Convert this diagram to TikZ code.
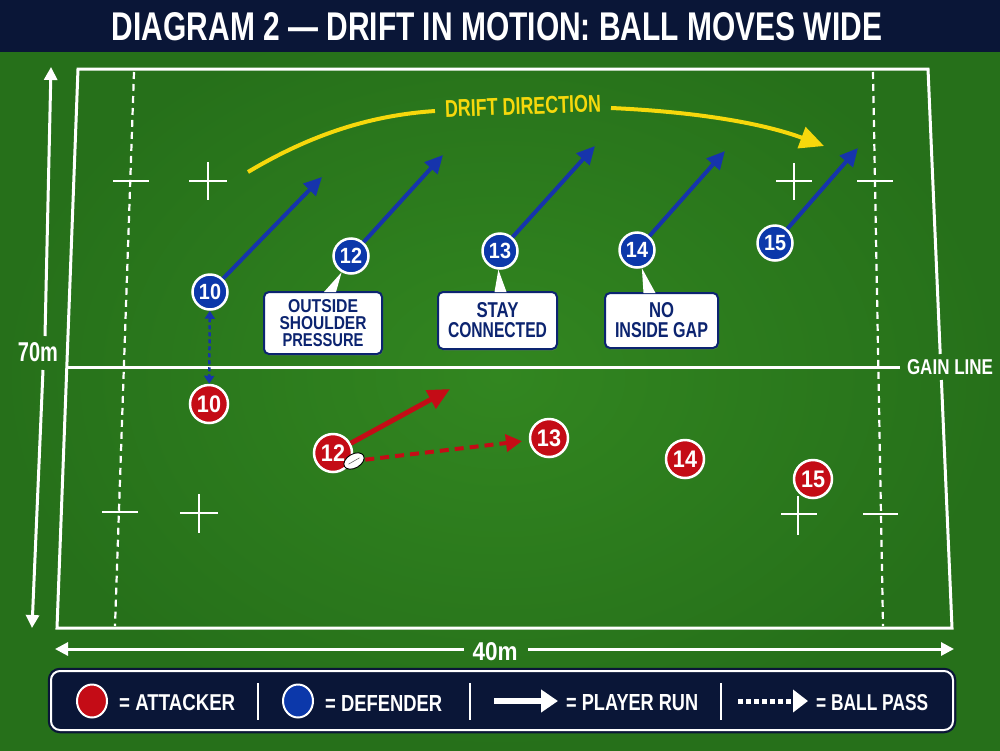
\documentclass[tikz,border=0pt]{standalone}
\usepackage{fontspec}
\setmainfont{Liberation Sans}
\usetikzlibrary{arrows.meta,shapes.geometric,shadows,calc}
\definecolor{grassIn}{RGB}{50,134,32}
\definecolor{grassOut}{RGB}{38,112,26}
\definecolor{navyC}{RGB}{10,22,55}
\definecolor{redP}{RGB}{196,12,22}
\definecolor{blueP}{RGB}{12,56,170}
\definecolor{blueA}{RGB}{22,52,172}
\definecolor{yellowC}{RGB}{246,216,12}
\definecolor{boxText}{RGB}{12,36,112}
\newcommand{\fitT}[3]{\resizebox{#1pt}{#2pt}{\bfseries #3}}
\newcommand{\pnum}[2]{\scalebox{0.9}[1]{\fontsize{#1}{#1}\selectfont\bfseries #2}}
\begin{document}
\begin{tikzpicture}[x=1pt,y=-1pt,
  fline/.style={white, line width=3pt},
  dline/.style={white, line width=2.2pt, dash pattern=on 7pt off 5pt},
  hline/.style={white, line width=2.5pt},
  pshadow/.style={drop shadow={opacity=0.35, shadow xshift=1pt, shadow yshift=-1.5pt}},
  att/.style={circle, minimum size=38pt, inner sep=0pt, fill=redP, draw=white, line width=2.5pt, text=white, pshadow},
  def/.style={circle, minimum size=35pt, inner sep=0pt, fill=blueP, draw=white, line width=2.5pt, text=white, pshadow},
  lbox/.style={draw=boxText, line width=2pt, fill=white, rounded corners=5pt, inner sep=0pt, text=boxText, align=center, font=\fontsize{13}{17}\selectfont, pshadow},
  barrow/.style={blueA, line width=4pt, -{Triangle[length=18pt,width=17pt]}},
  rrun/.style={redP, line width=5pt, -{Triangle[length=22pt,width=20pt]}},
  rpass/.style={redP, line width=4pt, dash pattern=on 9pt off 6pt, -{Triangle[length=16pt,width=17pt]}},
  bpass/.style={blueA, line width=2.5pt, dash pattern=on 4pt off 3pt, {Triangle[length=8pt,width=10pt]}-{Triangle[length=8pt,width=10pt]}},
  wtxt/.style={text=white, inner sep=0pt}
]
\useasboundingbox (0,0) rectangle (1000,750);
\shade[inner color=grassIn, outer color=grassOut] (0,0) rectangle (1000,750);

% title bar
\fill[navyC] (0,0) rectangle (1000,52);
\node[wtxt] (title) at (497,27) {\fitT{770}{28}{DIAGRAM 2 — DRIFT IN MOTION: BALL MOVES WIDE}};

% field outline
\coordinate (TL) at (78,69);
\coordinate (TR) at (928,69);
\coordinate (BR) at (952,628);
\coordinate (BL) at (57,628);
\coordinate (RT) at (940.2,354);
\coordinate (RB) at (941.4,380);
\draw[fline, line join=miter] (RT) -- (TR) -- (TL) -- (BL) -- (BR) -- (RB);
% 5m dashed lines
\coordinate (LD1) at (134,72);
\coordinate (LD2) at (115,626);
\coordinate (RD1) at (873,72);
\coordinate (RD2) at (883,626);
\draw[dline] (LD1) -- (LD2);
\draw[dline] (RD1) -- (RD2);
% gain line
\coordinate (GL1) at (67,367);
\coordinate (GL2) at (900,367);
\draw[fline] (GL1) -- (GL2);
\node[wtxt] (gaintext) at (950,367) {\fitT{86}{15}{GAIN LINE}};

% hash marks and crosses
\draw[hline] (113,181) -- (149,181);
\draw[hline] (189,181) -- (227,181) (208,162) -- (208,200);
\draw[hline] (776,181) -- (812,181) (794,163) -- (794,200);
\draw[hline] (857,181) -- (893,181);
\draw[hline] (102,512) -- (138,512);
\draw[hline] (180,513) -- (218,513) (199,494) -- (199,533);
\draw[hline] (781,514) -- (817,514) (798,496) -- (798,535);
\draw[hline] (863,514) -- (898,514);

% dimension arrows
\node[wtxt] (dim70) at (38,352) {\fitT{40}{19}{70m}};
\coordinate (v1) at (45,336);
\coordinate (v2) at (51,67);
\coordinate (v3) at (43,370);
\coordinate (v4) at (32,628);
\draw[white, line width=3pt, -{Triangle[length=13pt,width=13pt]}] (v1) -- (v2);
\draw[white, line width=3pt, -{Triangle[length=13pt,width=13pt]}] (v3) -- (v4);
\node[wtxt] (dim40) at (495,652) {\fitT{45}{18}{40m}};
\coordinate (h1) at (464,649);
\coordinate (h2) at (55,649);
\coordinate (h3) at (528,649);
\coordinate (h4) at (954,649);
\draw[white, line width=3pt, -{Triangle[length=13pt,width=13pt]}] (h1) -- (h2);
\draw[white, line width=3pt, -{Triangle[length=13pt,width=13pt]}] (h3) -- (h4);

% drift direction
\node[text=yellowC, inner sep=0pt, rotate=2] (drift) at (523,106) {\fitT{156}{17}{DRIFT DIRECTION}};
\coordinate (dr1) at (248,172);
\coordinate (dr2) at (435,111);
\coordinate (dr3) at (611,108);
\coordinate (dr4) at (824,146);
\draw[yellowC, line width=4pt] (dr1) .. controls (315,132) and (375,115) .. (dr2);
\draw[yellowC, line width=4pt, -{Triangle[length=24pt,width=22pt]}] (dr3) .. controls (700,112) and (765,124) .. (dr4);

% defenders
\node[def] (d10) at (210,292) {\pnum{22}{10}};
\node[def] (d12) at (351,256) {\pnum{22}{12}};
\node[def] (d13) at (500,251) {\pnum{22}{13}};
\node[def] (d14) at (637,250) {\pnum{22}{14}};
\node[def] (d15) at (775,243) {\pnum{22}{15}};
\coordinate (t10) at (322,177);
\coordinate (t12) at (443,155);
\coordinate (t13) at (595,146);
\coordinate (t14) at (725,151);
\coordinate (t15) at (858,148);
\draw[barrow] (d10) -- (t10);
\draw[barrow] (d12) -- (t12);
\draw[barrow] (d13) -- (t13);
\draw[barrow] (d14) -- (t14);
\draw[barrow] (d15) -- (t15);

% label boxes
\node[lbox, minimum width=118pt, minimum height=62pt] (lbl1) at (323,323)
  {\fitT{70}{13}{OUTSIDE}\\\fitT{87}{13}{SHOULDER}\\\fitT{81}{13}{PRESSURE}};
\node[lbox, minimum width=119pt, minimum height=57pt, font=\fontsize{15}{20}\selectfont] (lbl2) at (497.5,320.5)
  {\fitT{42}{15}{STAY}\\\fitT{99}{15}{CONNECTED}};
\node[lbox, minimum width=113pt, minimum height=55pt, font=\fontsize{15}{20}\selectfont] (lbl3) at (661.5,320.5)
  {\fitT{25}{15}{NO}\\\fitT{93}{15}{INSIDE GAP}};
% pointers
\fill[white] ($(lbl1.north)+(1,1)$) -- ($(lbl1.north)+(13,1)$) -- (d12.240) -- cycle;
\fill[white] ($(lbl2.north)+(-3,1)$) -- ($(lbl2.north)+(9,1)$) -- (d13.265) -- cycle;
\fill[white] ($(lbl3.north)+(-18,1)$) -- ($(lbl3.north)+(-6,1)$) -- (d14.285) -- cycle;

% attackers
\node[att] (a10) at (209,404) {\pnum{24}{10}};
\node[att] (a12) at (333,453) {\pnum{24}{12}};
\node[att] (a13) at (549,438) {\pnum{24}{13}};
\node[att] (a14) at (685,459) {\pnum{24}{14}};
\node[att] (a15) at (813,479) {\pnum{24}{15}};

\draw[bpass] (d10) -- (a10);
\coordinate (r12) at (450,389);
\draw[rrun] (a12) -- (r12);

% ball
\node[ellipse, draw=black, line width=0.9pt, fill=white, minimum width=22pt, minimum height=14pt, inner sep=0pt, rotate=30] (ball) at (354,461) {};
\draw[black!60, line width=0.6pt] ($(ball.center)!0.55!(ball.west)$) -- ($(ball.center)!0.55!(ball.east)$);
\draw[rpass, shorten <=1pt, shorten >=7pt] (ball) -- (a13);

% legend
\node[draw=navyC, line width=4.5pt, rounded corners=10pt, minimum width=904pt, minimum height=61pt] (legendO) at (502,700.5) {};
\node[draw=white, line width=2pt, fill=navyC, rounded corners=9pt, minimum width=902pt, minimum height=59pt] (legend) at (502,700.5) {};
\node[ellipse, fill=redP, draw=white, line width=2pt, minimum width=30pt, minimum height=33pt, inner sep=0pt] (lgA) at (92,701) {};
\node[wtxt, anchor=west] (lgAt) at (119,703) {\fitT{116}{16}{= ATTACKER}};
\node[ellipse, fill=blueP, draw=white, line width=2pt, minimum width=30pt, minimum height=33pt, inner sep=0pt] (lgD) at (298,701) {};
\node[wtxt, anchor=west] (lgDt) at (325,703) {\fitT{117}{16}{= DEFENDER}};
\coordinate (la1) at (494,701);
\coordinate (la2) at (558,701);
\draw[white, line width=6pt, -{Triangle[length=17pt,width=22pt]}] (la1) -- (la2);
\node[wtxt, anchor=west] (lgRt) at (566,703) {\fitT{132}{16}{= PLAYER RUN}};
\coordinate (lb1) at (738,701);
\coordinate (lb2) at (808,701);
\draw[white, line width=5pt, dash pattern=on 5pt off 3pt, -{Triangle[length=15pt,width=22pt]}] (lb1) -- (lb2);
\node[wtxt, anchor=west] (lgPt) at (816,703) {\fitT{112}{16}{= BALL PASS}};
\draw[white, line width=1.5pt] (258,683) -- (258,720);
\draw[white, line width=1.5pt] (470,683) -- (470,720);
\draw[white, line width=1.5pt] (721,683) -- (721,720);
\end{tikzpicture}
\end{document}
